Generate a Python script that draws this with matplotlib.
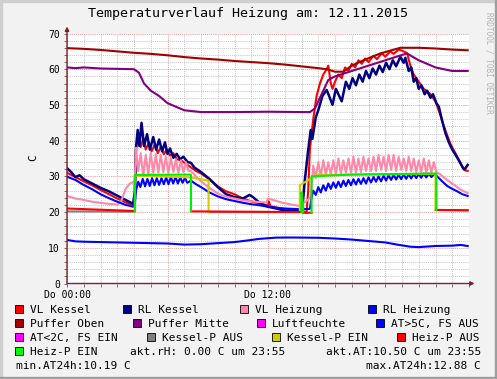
import matplotlib.pyplot as plt
import numpy as np
from matplotlib.patches import Rectangle

nan = np.nan

# Data (hours since 00:00, temperature in C)
vl_kessel_h = [0, 0.5, 1.0, 1.5, 2.0, 2.5, 3.0, 3.5, 3.95,
               4.05, 4.12, 4.25, 4.4, 4.55, 4.7, 4.88, 5.05, 5.25, 5.42, 5.6, 5.78, 5.95, 6.15, 6.35,
               6.55, 6.8, 7.1, 7.4, 7.7, 8.0, 8.5, 9.0, 9.5, 10.0, 10.5, 11.0, 11.5, 12.0, 12.05,
               12.15, 12.5, 13.0, 13.5, 13.95,
               14.1, 14.3, 14.4, 14.5, 14.7, 14.9, 15.1, 15.3, 15.5, 15.6, 15.75, 15.85, 16.0, 16.2,
               16.4, 16.6, 16.8, 17.0, 17.2, 17.4, 17.6, 17.8, 18.0, 18.3, 18.5, 18.8, 19.0, 19.3,
               19.5, 19.8, 20.0, 20.3, 20.5, 20.7, 21.0, 21.3, 21.7, 22.0, 22.3, 22.5, 22.9, 23.3,
               23.7, 23.92]
vl_kessel_v = [31.0, 29.8, 28.6, 27.5, 26.2, 25.0, 23.8, 22.7, 21.8,
               24.0, 38.0, 41.0, 38.2, 40.5, 37.5, 39.5, 37.0, 39.0, 36.5, 38.3, 36.2, 37.5, 35.8, 36.5,
               34.8, 34.5, 33.5, 32.5, 31.5, 30.8, 29.2, 27.2, 25.8, 25.0, 23.8, 23.0, 22.4, 21.8, 23.0,
               21.6, 21.3, 20.8, 20.4, 20.3,
               20.2, 19.8, 26.0, 37.5, 46.0, 52.5, 56.0, 58.5, 60.0, 61.0, 56.0, 54.5, 56.5, 58.5,
               57.5, 60.5, 59.5, 61.5, 60.5, 62.5, 61.5, 63.0, 62.0, 63.8, 62.8, 64.5, 63.5, 65.0,
               64.3, 65.5, 65.2, 64.5, 61.0, 58.5, 56.5, 54.5, 53.0, 51.0, 47.0, 44.0, 39.0, 35.5,
               31.8, 31.5]

rl_kessel_h = [0, 0.25, 0.5, 0.75, 1.0, 1.5, 2.0, 2.5, 3.0, 3.5, 3.95,
               4.05, 4.12, 4.22, 4.32, 4.45, 4.6, 4.78, 4.95, 5.15, 5.32, 5.5, 5.68, 5.85, 6.0,
               6.15, 6.35, 6.55, 6.75, 6.95, 7.2, 7.4, 7.6, 8.0, 8.5, 9.0, 9.5, 10.0, 10.5, 10.9,
               11.1, 11.5, 12.0, 12.5, 13.0, 13.5, 13.9,
               14.05, 14.2, 14.4, 14.55, 14.65, 14.85, 15.0, 15.25, 15.5, 15.65, 15.85, 16.05,
               16.4, 16.65, 16.85, 17.05, 17.25, 17.45, 17.65, 17.85, 18.05, 18.25, 18.45, 18.65,
               18.85, 19.05, 19.25, 19.45, 19.65, 19.9, 20.1, 20.2, 20.4, 20.55, 20.7, 20.85, 21.0,
               21.15, 21.35, 21.5, 21.7, 21.85, 22.05, 22.2, 22.4, 22.6, 22.8, 23.0, 23.2, 23.45,
               23.65, 23.75, 23.92]
rl_kessel_v = [32.3, 31.2, 29.8, 30.3, 29.2, 28.0, 26.8, 25.8, 24.6, 23.4, 22.3,
               26.0, 38.0, 43.0, 38.5, 45.0, 38.5, 41.8, 37.5, 41.0, 37.5, 40.3, 37.0, 39.5, 36.3,
               37.8, 35.2, 36.3, 34.8, 35.5, 34.0, 33.8, 32.5, 31.2, 29.3, 27.0, 25.0, 24.2, 23.8, 24.8,
               24.2, 22.6, 21.5, 21.0, 20.4, 20.3, 20.6,
               21.0, 29.0, 37.4, 43.0, 40.5, 46.5, 48.5, 52.5, 54.2, 52.5, 50.0, 54.5,
               51.0, 56.5, 54.5, 57.5, 55.5, 58.5, 56.5, 59.5, 57.5, 60.2, 58.5, 61.0,
               59.2, 61.8, 60.0, 62.5, 60.8, 63.5, 61.8, 63.2, 59.5, 60.5, 56.5, 57.5, 54.5,
               55.5, 53.0, 54.0, 52.0, 53.0, 50.5, 49.5, 45.5, 42.0, 39.5, 37.5, 36.0, 34.0,
               32.3, 32.0, 33.2]

vl_heizung_h = [0, 0.5, 1.0, 1.5, 2.0, 2.5, 3.0, 3.25, 3.5, 3.75, 3.95,
                4.05, 4.12, 4.25, 4.4, 4.55, 4.7, 4.85, 5.0, 5.15, 5.3, 5.45, 5.6, 5.75, 5.9, 6.05,
                6.2, 6.35, 6.5, 6.65, 6.8, 6.95, 7.1, 7.25, 7.4, 7.7, 8.0, 8.5, 9.0, 9.5, 10.0, 10.5,
                11.0, 11.5, 11.9, 12.0, 12.3, 12.8, 13.3, 13.9,
                14.1, 14.4, 14.55, 14.7, 14.85, 15.0, 15.15, 15.3, 15.45, 15.6, 15.75, 15.9, 16.05,
                16.2, 16.35, 16.5, 16.65, 16.8, 16.95, 17.1, 17.25, 17.4, 17.55, 17.7, 17.85, 18.0,
                18.15, 18.3, 18.45, 18.6, 18.75, 18.9, 19.05, 19.2, 19.35, 19.5, 19.65, 19.8, 19.95,
                20.1, 20.25, 20.4, 20.55, 20.7, 20.85, 21.0, 21.15, 21.3, 21.45, 21.6, 21.75, 21.9,
                22.05, 22.3, 22.6, 22.9, 23.2, 23.5, 23.92]
vl_heizung_v = [24.5, 23.8, 23.4, 22.9, 22.6, 22.3, 22.1, 23.2, 26.5, 28.0, 28.4,
                29.0, 38.0, 31.5, 36.5, 30.0, 36.0, 30.5, 36.5, 31.0, 36.2, 31.0, 36.0, 31.2, 35.5, 31.0,
                35.2, 31.2, 34.8, 31.0, 34.5, 31.2, 34.0, 31.5, 31.5, 30.0, 28.6, 26.8, 25.2, 24.3, 23.8, 23.3,
                23.0, 22.8, 22.7, 23.8, 23.4, 22.7, 22.2, 21.7,
                22.4, 23.5, 24.3, 33.0, 29.5, 34.0, 30.0, 34.5, 30.5, 34.0, 30.5, 34.5, 30.5,
                35.0, 30.8, 34.5, 31.0, 35.0, 31.0, 35.5, 31.0, 35.0, 31.2, 35.5, 31.5, 35.0,
                31.5, 35.5, 31.5, 36.0, 31.8, 35.5, 31.5, 36.0, 31.8, 36.0, 31.5, 35.5, 31.8,
                35.0, 31.5, 35.5, 31.5, 35.0, 31.2, 34.5, 31.2, 35.0, 31.0, 34.5, 31.0, 34.0,
                31.2, 30.5, 29.3, 28.3, 27.3, 26.3, 25.3]

rl_heizung_h = [0, 0.5, 1.0, 1.5, 2.0, 2.5, 3.0, 3.5, 3.95,
                4.05, 4.12, 4.25, 4.38, 4.52, 4.66, 4.8, 4.94, 5.08, 5.22, 5.36, 5.5, 5.64, 5.78,
                5.92, 6.06, 6.2, 6.34, 6.48, 6.62, 6.76, 6.9, 7.04, 7.18, 7.4, 7.7, 8.0, 8.5, 9.0,
                9.5, 10.0, 10.5, 11.0, 11.5, 12.0, 12.5, 13.0, 13.9,
                14.1, 14.5, 14.6, 14.7, 14.85, 15.0, 15.15, 15.3, 15.45, 15.6, 15.75, 15.9, 16.05,
                16.2, 16.35, 16.5, 16.65, 16.8, 16.95, 17.1, 17.25, 17.4, 17.55, 17.7, 17.85, 18.0,
                18.15, 18.3, 18.45, 18.6, 18.75, 18.9, 19.05, 19.2, 19.35, 19.5, 19.65, 19.8, 19.95,
                20.1, 20.25, 20.4, 20.55, 20.7, 20.85, 21.0, 21.15, 21.3, 21.45, 21.6, 21.75, 21.95,
                22.1, 22.4, 22.7, 23.0, 23.3, 23.6, 23.92]
rl_heizung_v = [29.9, 29.0, 27.6, 26.4, 25.0, 23.9, 22.9, 22.0, 21.5,
                22.0, 26.0, 28.5, 27.0, 29.3, 27.2, 29.3, 27.3, 29.5, 27.5, 29.5, 27.6, 29.5, 27.8,
                29.7, 27.8, 29.8, 28.0, 29.8, 28.0, 29.7, 28.2, 29.6, 28.2, 28.8, 27.8, 27.0, 25.5, 24.4,
                23.6, 23.1, 22.6, 22.2, 21.9, 21.5, 21.2, 21.0, 20.8,
                20.8, 20.9, 24.0, 26.0, 24.8, 27.0, 25.5, 27.5, 26.0, 28.0, 26.5, 28.3, 26.8,
                28.5, 27.0, 28.8, 27.3, 29.0, 27.5, 29.2, 27.7, 29.3, 27.9, 29.5, 28.0, 29.7,
                28.3, 29.8, 28.5, 30.0, 28.6, 30.2, 28.8, 30.3, 29.0, 30.4, 29.1, 30.5, 29.2,
                30.6, 29.3, 30.6, 29.4, 30.7, 29.5, 30.7, 29.6, 30.8, 29.7, 30.8, 29.8, 30.7,
                30.0, 28.6, 27.3, 26.5, 25.8, 25.0, 24.5]

puffer_oben_h = [0, 1, 2, 3, 4, 5, 6, 7, 8, 9, 10, 11, 12, 13, 14, 15, 15.5, 16, 16.5, 17,
                 17.7, 18.7, 19.9, 21, 22, 23, 23.92]
puffer_oben_v = [65.9, 65.7, 65.4, 65.0, 64.6, 64.3, 63.9, 63.4, 63.0, 62.7, 62.3, 62.0, 61.7,
                 61.3, 60.8, 60.3, 60.0, 59.3, 59.3, 61.0, 62.5, 64.4, 66.0, 66.0, 65.8, 65.5, 65.3]

puffer_mitte_h = [0, 0.5, 1, 2, 3, 4, 4.3, 4.6, 5, 5.5, 6, 6.5, 7, 8, 10, 12, 14, 14.5, 14.8,
                  15.3, 15.6, 16, 17, 18, 19, 20, 20.3, 21, 22, 23, 23.92]
puffer_mitte_v = [60.5, 60.3, 60.5, 60.2, 60.1, 60.0, 59.0, 56.0, 54.0, 52.5, 50.5, 49.5, 48.5,
                  48.0, 48.0, 48.1, 48.0, 48.0, 49.0, 54.0, 57.0, 58.0, 59.5, 61.0, 62.5, 64.0,
                  64.4, 62.5, 60.5, 59.5, 59.5]

aussen_h = [0, 0.5, 1, 2, 3, 4, 5, 6, 7, 8, 9, 10, 10.7, 11.5, 12.5, 13.5, 15, 16, 17, 18, 19,
            19.7, 20.5, 21, 22, 23, 23.5, 23.92]
aussen_v = [12.2, 11.8, 11.7, 11.6, 11.5, 11.4, 11.3, 11.2, 10.9, 11.0, 11.3, 11.6, 12.0, 12.5,
            12.85, 12.88, 12.8, 12.6, 12.3, 11.9, 11.5, 10.9, 10.3, 10.19, 10.5, 10.6, 10.8, 10.5]

# pump states: EIN (on) with its switching edges, AUS (off)
kessel_ein_h = [4.05, 4.05, 7.4, 8.45, 8.45, nan, 13.9, 13.9, 14.9, 22.0, 22.0]
kessel_ein_v = [20.1, 30.2, 29.7, 28.8, 20.0, nan, 20.0, 27.5, 30.4, 30.7, 20.6]
kessel_aus_h = [0, 4.05, nan, 8.45, 13.9, nan, 22.0, 23.92]
kessel_aus_v = [20.2, 20.1, nan, 20.0, 20.0, nan, 20.6, 20.5]

heizp_ein_h = [4.05, 4.05, 7.4, 7.4, nan, 14.0, 14.0, 14.1, 14.1, nan, 14.6, 14.6, 17.0, 22.05, 22.05]
heizp_ein_v = [20.3, 30.4, 30.5, 20.2, nan, 20.0, 25.5, 22.0, 20.0, nan, 19.8, 30.0, 30.5, 30.8, 20.6]
heizp_aus_h = [0, 4.05, nan, 7.4, 14.0, nan, 14.1, 14.6, nan, 22.05, 23.92]
heizp_aus_v = [21.0, 20.3, nan, 20.2, 20.0, nan, 19.8, 19.8, nan, 20.6, 20.5]

legend_labels = ['VL Kessel', 'RL Kessel', 'VL Heizung', 'RL Heizung',
                 'Puffer Oben', 'Puffer Mitte', 'Luftfeuchte', 'AT>5C, FS AUS',
                 'AT<2C, FS EIN', 'Kessel-P AUS', 'Kessel-P EIN', 'Heiz-P AUS',
                 'Heiz-P EIN']
legend_colors = ['#FF0000', '#000080', '#FF88AA', '#0000FF',
                 '#A00000', '#800080', '#FF00FF', '#0000FF',
                 '#FF00FF', '#808080', '#CCCC00', '#FF0000',
                 '#00FF00']

W, H = 497, 379
mono = 'DejaVu Sans Mono'


def fx(x):
    return x / W


def fy(y):
    return 1 - y / H


fig = plt.figure(figsize=(W / 100, H / 100), dpi=100)
fig.patch.set_facecolor('#F2F2F2')

# rrdtool style frame
fig.patches.append(Rectangle((0, 0), fx(2), 1, transform=fig.transFigure, color='#CFCFCF', zorder=0))
fig.patches.append(Rectangle((0, fy(2)), 1, fx(2) * W / H, transform=fig.transFigure, color='#CFCFCF', zorder=0))
fig.patches.append(Rectangle((fx(W - 2), 0), fx(2), 1, transform=fig.transFigure, color='#9E9E9E', zorder=0))
fig.patches.append(Rectangle((0, 0), 1, 2 / H, transform=fig.transFigure, color='#9E9E9E', zorder=0))

ax = fig.add_axes([fx(67), fy(283.5), fx(402), 250 / H])
ax.set_facecolor('white')
ax.set_xlim(0, 24)
ax.set_ylim(0, 70)

lw = 1.5
ax.plot(vl_kessel_h, vl_kessel_v, color='#FF0000', lw=lw)
ax.plot(rl_kessel_h, rl_kessel_v, color='#000080', lw=lw + 0.3)
ax.plot(vl_heizung_h, vl_heizung_v, color='#FF88AA', lw=lw)
ax.plot(rl_heizung_h, rl_heizung_v, color='#0000FF', lw=lw)
ax.plot(puffer_oben_h, puffer_oben_v, color='#A00000', lw=lw)
ax.plot(puffer_mitte_h, puffer_mitte_v, color='#800080', lw=lw)
ax.plot(aussen_h, aussen_v, color='#0000FF', lw=lw)
ax.plot(kessel_aus_h, kessel_aus_v, color='#808080', lw=lw)
ax.plot(kessel_ein_h, kessel_ein_v, color='#CCCC00', lw=lw)
ax.plot(heizp_aus_h, heizp_aus_v, color='#FF0000', lw=lw)
ax.plot(heizp_ein_h, heizp_ein_v, color='#00EE00', lw=lw)

# grid
ax.set_xticks([0, 6, 12, 18, 24])
ax.set_xticklabels(['Do 00:00', '', 'Do 12:00', '', ''])
ax.set_xticks(range(25), minor=True)
ax.set_yticks(range(0, 71, 10))
ax.set_yticks(range(0, 71, 2), minor=True)
ax.grid(True, which='minor', color='#C8C8C8', lw=0.75, linestyle=(0, (1, 1)))
ax.grid(True, which='major', color='#E8A0A0', lw=0.75, linestyle=(0, (1, 1)))
ax.set_axisbelow(True)
for s in ax.spines.values():
    s.set_visible(False)
ax.tick_params(which='both', length=2, width=0.6, color='#606060', pad=3)
ax.tick_params(axis='both', labelsize=7)
for lab in ax.get_xticklabels() + ax.get_yticklabels():
    lab.set_fontfamily(mono)

# axes with arrows
ax.annotate('', xy=(0, 1.028), xytext=(0, 0), xycoords='axes fraction',
            arrowprops=dict(arrowstyle='-|>', color='#7F1F1F', lw=1, mutation_scale=6,
                            shrinkA=0, shrinkB=0), annotation_clip=False)
ax.annotate('', xy=(1.014, 0), xytext=(0, 0), xycoords='axes fraction',
            arrowprops=dict(arrowstyle='-|>', color='#7F1F3F', lw=1, mutation_scale=6,
                            shrinkA=0, shrinkB=0), annotation_clip=False)

fig.text(fx(248), fy(14), 'Temperaturverlauf Heizung am: 12.11.2015', ha='center', va='center',
         fontsize=9.6, family=mono)
fig.text(fx(33), fy(158), 'C', rotation=90, ha='center', va='center', fontsize=8, family=mono)
fig.text(fx(489), fy(63), 'RRDTOOL / TOBI OETIKER', rotation=270, ha='center', va='center',
         fontsize=5.6, family=mono, color='#B4B4B4')

# legend
row_y = [309, 323, 337, 351, 365]
box_x = [[15, 123, 240, 368], [15, 133, 257, 376], [15, 147, 272, 397], [15]]
for i, (lab, col) in enumerate(zip(legend_labels, legend_colors)):
    r, c = divmod(i, 4)
    bx = box_x[r][c]
    yc = row_y[r]
    fig.patches.append(Rectangle((fx(bx), fy(yc + 4)), 8 / W, 8 / H, transform=fig.transFigure,
                                 facecolor=col, edgecolor='black', lw=0.6))
    fig.text(fx(bx + 15), fy(yc + 4.3), lab, ha='left', va='baseline', fontsize=8, family=mono)

fig.text(fx(130), fy(row_y[3] + 4.3), 'akt.rH: 0.00 C um 23:55', ha='left', va='baseline',
         fontsize=8, family=mono)
fig.text(fx(481), fy(row_y[3] + 4.3), 'akt.AT:10.50 C um 23:55', ha='right', va='baseline',
         fontsize=8, family=mono)
fig.text(fx(16), fy(row_y[4] + 4.3), 'min.AT24h:10.19 C', ha='left', va='baseline',
         fontsize=8, family=mono)
fig.text(fx(481), fy(row_y[4] + 4.3), 'max.AT24h:12.88 C', ha='right', va='baseline',
         fontsize=8, family=mono)

fig.savefig('out.png', dpi=100, facecolor=fig.get_facecolor())
